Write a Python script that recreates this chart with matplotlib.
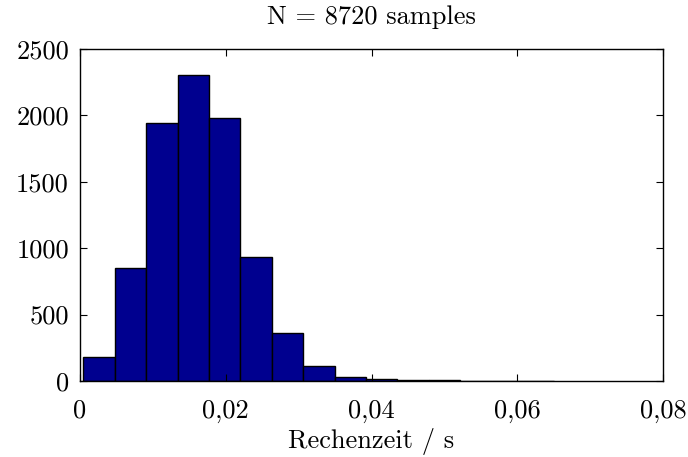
import numpy as np
import matplotlib
matplotlib.use('Agg')
import matplotlib.pyplot as plt
from matplotlib.ticker import FuncFormatter

plt.rcParams['font.family'] = ['cmr10', 'DejaVu Serif']
plt.rcParams['axes.unicode_minus'] = False
plt.rcParams['mathtext.fontset'] = 'cm'

# histogram (counts per bin)
bin_start = 0.00045
bin_width = 0.00431
counts = [180, 850, 1940, 2303, 1980, 935, 358, 112, 30, 14, 7, 5, 3, 1, 2]
n_samples = 8720

x_ticks = [0, 0.02, 0.04, 0.06, 0.08]
y_ticks = [0, 500, 1000, 1500, 2000, 2500]

left_edges = bin_start + bin_width * np.arange(len(counts))

fig = plt.figure(figsize=(6.88, 4.57), dpi=100)
ax = fig.add_axes([0.1163, 0.1663, 0.8474, 0.7265])

ax.bar(left_edges, counts, width=bin_width, align='edge',
       color='#00008f', edgecolor='black', linewidth=1.0)

ax.set_xlim(0, 0.08)
ax.set_ylim(0, 2500)
ax.set_xticks(x_ticks)
ax.set_yticks(y_ticks)

def comma_fmt(v, pos):
    if abs(v) < 1e-12:
        return '0'
    return ('%.2f' % v).replace('.', ',')

ax.xaxis.set_major_formatter(FuncFormatter(comma_fmt))
ax.tick_params(direction='in', top=True, right=True, length=5, width=0.8,
               labelsize=19)
ax.tick_params(axis='x', pad=13)
ax.tick_params(axis='y', pad=8)
for s in ax.spines.values():
    s.set_linewidth(1.0)

ax.set_xlabel('Rechenzeit / s', fontsize=19, labelpad=4)
ax.set_title('N = %d samples' % n_samples, fontsize=19, pad=18)

fig.savefig('out.png', dpi=100)
